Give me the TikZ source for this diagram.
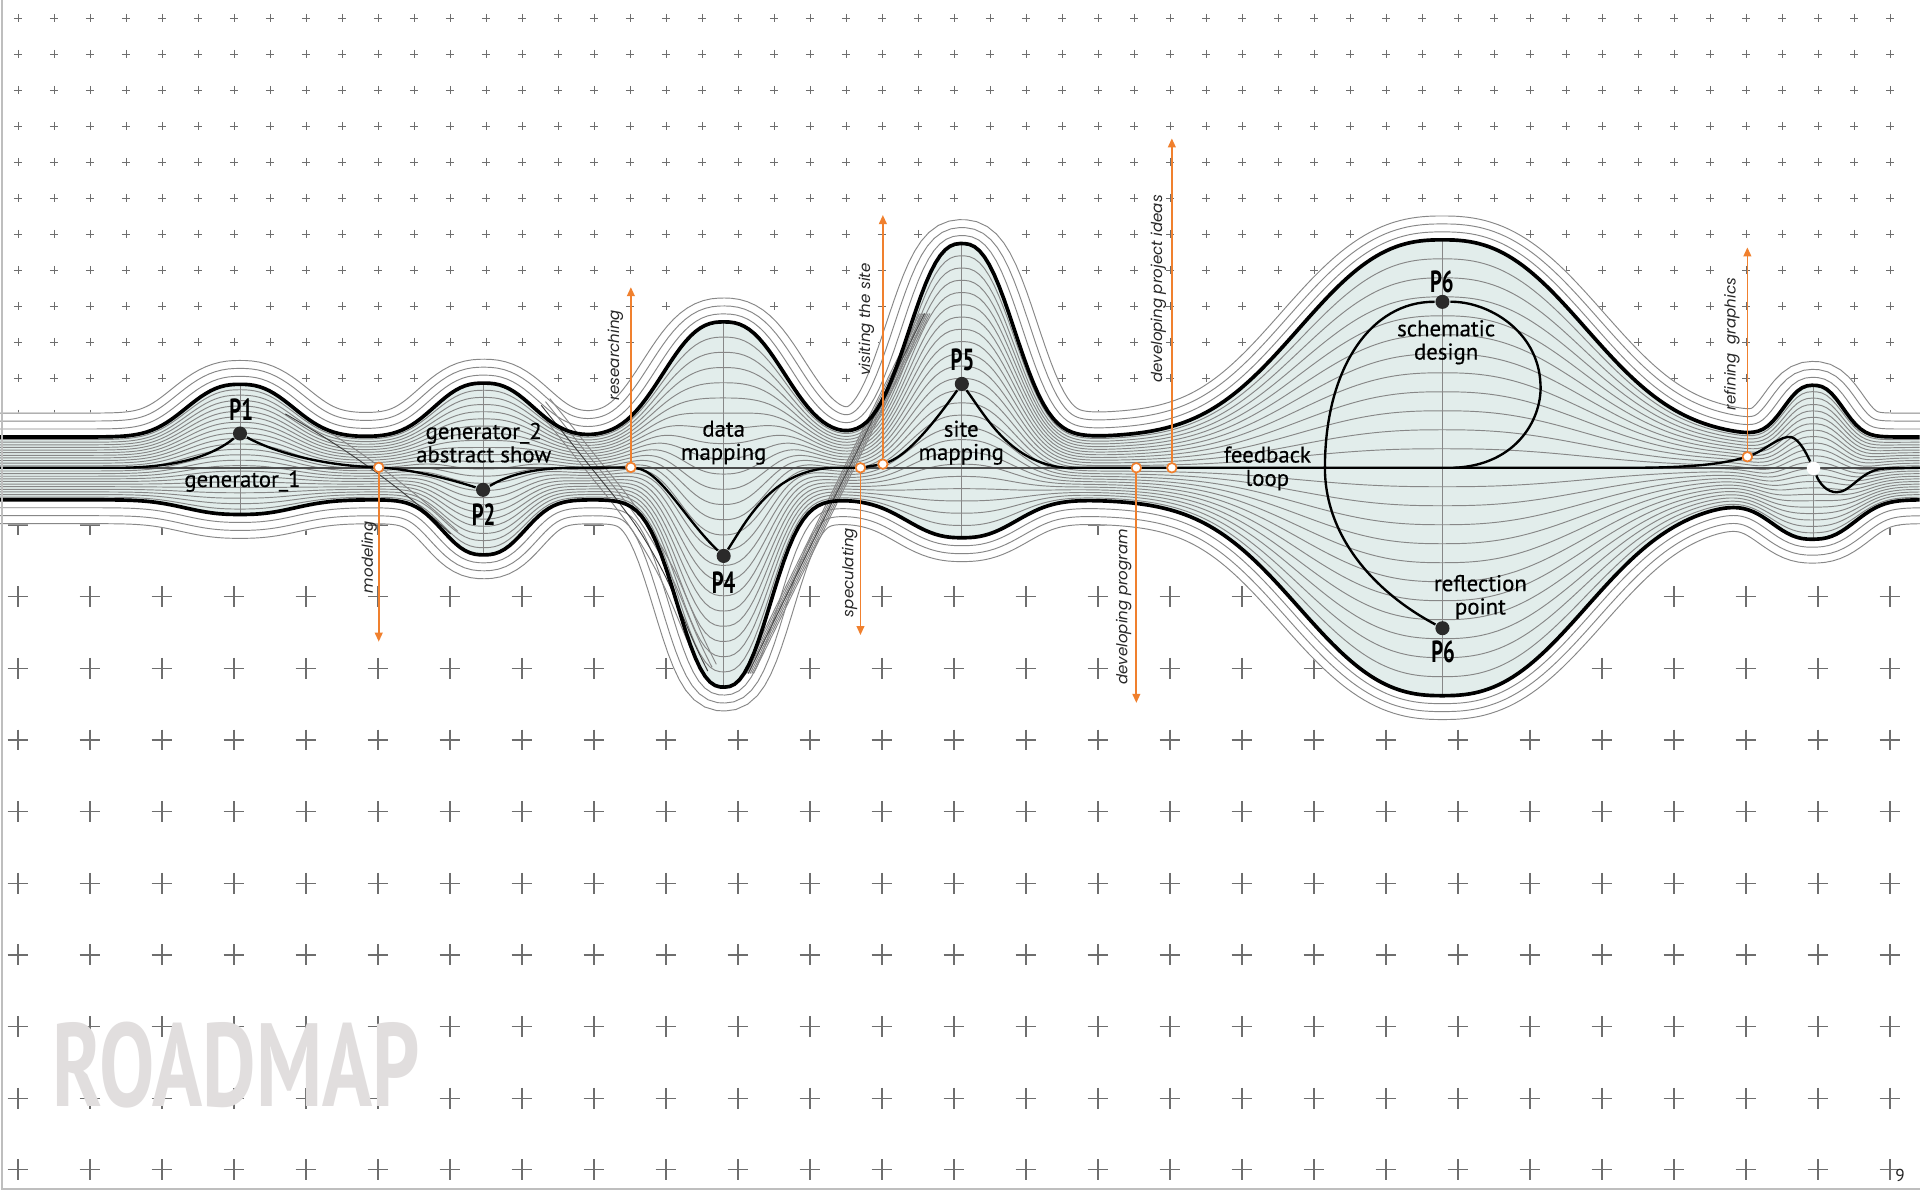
\documentclass[tikz,border=0pt]{standalone}
\usepackage{fontspec}
\usepackage{graphicx}
\setmainfont{PT Sans}
\newfontfamily\tagfont[FakeStretch=0.68]{PT Sans}
\newfontfamily\labelfont[FakeBold=0.4]{PT Sans}
\newfontfamily\sidefont{Poppins}
\usetikzlibrary{arrows.meta}

\definecolor{bandfill}{RGB}{226,237,235}
\definecolor{linegray}{RGB}{135,135,135}
\definecolor{crossgray}{RGB}{110,110,110}
\definecolor{stepsorange}{RGB}{240,128,46}
\definecolor{stopgray}{RGB}{42,42,42}
\definecolor{titlegray}{RGB}{225,222,222}
\definecolor{framegray}{RGB}{190,190,190}

% sampled band edges (value, normal parts)
\newcommand\Tv[1]{\csname rdTv#1\endcsname}
\newcommand\Tm[1]{\csname rdTm#1\endcsname}
\newcommand\Tn[1]{\csname rdTn#1\endcsname}
\newcommand\Bv[1]{\csname rdBv#1\endcsname}
\newcommand\Bm[1]{\csname rdBm#1\endcsname}
\newcommand\Bn[1]{\csname rdBn#1\endcsname}

\begin{document}
\begin{tikzpicture}[
  x=1cm,y=-1cm,
  contour/.style={draw=linegray,line width=0.22pt},
  envelope/.style={draw=black,line width=0.85pt,line join=round},
  axisline/.style={draw=black!70,line width=0.4pt},
  route/.style={draw=black,line width=0.55pt},
  smallcross/.style={draw=crossgray,line width=0.22pt},
  bigcross/.style={draw=crossgray,line width=0.3pt},
  frame/.style={draw=framegray,line width=0.6pt},
  stop/.style={circle,fill=stopgray,inner sep=0pt,minimum size=0.115cm},
  gapdot/.style={circle,fill=white,inner sep=0pt,minimum size=0.11cm},
  waypoint/.style={circle,draw=stepsorange,fill=white,line width=0.4pt,
                   inner sep=0pt,minimum size=0.078cm},
  branch/.style={draw=stepsorange,line width=0.4pt,-{Triangle[length=2.1pt,width=1.8pt]}},
  tag/.style={font=\tagfont\bfseries\fontsize{7.1}{7.1}\selectfont,inner sep=0pt},
  areatext/.style={font=\labelfont\fontsize{5.3}{5.4}\selectfont,align=center,inner sep=0pt,text=black},
  branchtext/.style={rotate=90,anchor=base,inner sep=0pt,
                     font=\sidefont\itshape\fontsize{3.5}{4}\selectfont,text=black!85},
  strand/.style={draw=linegray,line width=0.22pt},
  roadmaptitle/.style={text=titlegray,inner sep=0pt},
  pagenum/.style={font=\fontsize{4}{4}\selectfont,inner sep=0pt,text=black!85}
]
\fill[white] (0,0) rectangle (15.68,9.80);
\useasboundingbox (0,0) rectangle (15.68,9.80);

% grid of crosses
\draw[smallcross] \foreach \cx in {0,...,52}{\foreach \cy in {0,...,11}{
  ({0.147+0.294*\cx-0.033},{0.147+0.294*\cy}) -- ++(0.066,0)
  ({0.147+0.294*\cx},{0.147+0.294*\cy-0.033}) -- ++(0,0.066)}};
\draw[bigcross] \foreach \cx in {0,...,26}{\foreach \cy in {0,...,9}{
  ({0.147+0.588*\cx-0.085},{4.288+0.585*\cy}) -- ++(0.17,0)
  ({0.147+0.588*\cx},{4.288+0.585*\cy-0.085}) -- ++(0,0.17)}};

% band edges, sampled every 0.04
\foreach \i in {0,...,392}{
  \pgfmathsetmacro\rdx{\i*0.04}
  \xdef\rdT{3.57}\xdef\rdTs{0}\xdef\rdB{4.08}\xdef\rdBs{0}
  \foreach \bc/\tw/\ta/\bw/\ba in {1.96/0.54/0.43/0.55/0.12, 3.95/0.50/0.44/0.415/0.45,
      5.91/0.61/0.94/0.47/1.53, 7.855/0.53/1.58/0.55/0.31,
      11.78/1.44/1.61/1.44/1.60, 14.81/0.30/0.42/0.42/0.32}{
    \pgfmathsetmacro\rdu{max(min((\rdx-\bc)/\tw,2.3),-2.3)}
    \pgfmathsetmacro\rdf{exp(-(\rdu)*(\rdu)*sqrt(abs(\rdu)))}
    \pgfmathsetmacro\rdt{\rdT-(\ta)*(\rdf)}\xdef\rdT{\rdt}
    \pgfmathsetmacro\rdt{\rdTs+2.5*(\ta)*(\rdu)*sqrt(abs(\rdu))*(\rdf)/(\tw)}\xdef\rdTs{\rdt}
    \pgfmathsetmacro\rdu{max(min((\rdx-\bc)/\bw,2.3),-2.3)}
    \pgfmathsetmacro\rdf{exp(-(\rdu)*(\rdu)*sqrt(abs(\rdu)))}
    \pgfmathsetmacro\rdt{\rdB+(\ba)*(\rdf)}\xdef\rdB{\rdt}
    \pgfmathsetmacro\rdt{\rdBs-2.5*(\ba)*(\rdu)*sqrt(abs(\rdu))*(\rdf)/(\bw)}\xdef\rdBs{\rdt}
  }
  \pgfmathsetmacro\rdm{1/sqrt(1+(\rdTs)*(\rdTs))}
  \pgfmathsetmacro\rdn{(\rdTs)*(\rdm)}
  \expandafter\xdef\csname rdTv\i\endcsname{\rdT}
  \expandafter\xdef\csname rdTm\i\endcsname{\rdm}
  \expandafter\xdef\csname rdTn\i\endcsname{\rdn}
  \pgfmathsetmacro\rdm{1/sqrt(1+(\rdBs)*(\rdBs))}
  \pgfmathsetmacro\rdn{(\rdBs)*(\rdm)}
  \expandafter\xdef\csname rdBv\i\endcsname{\rdB}
  \expandafter\xdef\csname rdBm\i\endcsname{\rdm}
  \expandafter\xdef\csname rdBn\i\endcsname{\rdn}
}

% white margin and band
\fill[white] ({0.20*(\Tn0)},{\Tv0-0.20*(\Tm0)})
  \foreach \i in {1,...,392}{ -- ({\i*0.04+0.20*(\Tn\i)},{\Tv\i-0.20*(\Tm\i)})}
  \foreach \i in {392,...,0}{ -- ({\i*0.04-0.20*(\Bn\i)},{\Bv\i+0.20*(\Bm\i)})} -- cycle;
\fill[bandfill] (0,{\Tv0}) \foreach \i in {1,...,392}{ -- ({\i*0.04},{\Tv\i})}
  \foreach \i in {392,...,0}{ -- ({\i*0.04},{\Bv\i})} -- cycle;

\foreach \k in {1,...,23}{
  \draw[contour] (0,{\Tv0+\k/24*(\Bv0-\Tv0)})
    \foreach \i in {1,...,392}{ -- ({\i*0.04},{\Tv\i+\k/24*(\Bv\i-\Tv\i)})};
}
\foreach \gap in {0.065,0.13,0.195}{
  \draw[contour] ({\gap*(\Tn0)},{\Tv0-\gap*(\Tm0)})
    \foreach \i in {1,...,392}{ -- ({\i*0.04+\gap*(\Tn\i)},{\Tv\i-\gap*(\Tm\i)})};
  \draw[contour] ({-\gap*(\Bn0)},{\Bv0+\gap*(\Bm0)})
    \foreach \i in {1,...,392}{ -- ({\i*0.04-\gap*(\Bn\i)},{\Bv\i+\gap*(\Bm\i)})};
}
\foreach \bc/\idx in {1.96/49,3.95/99,5.91/148,7.855/196,11.78/294,14.81/370}{
  \draw[contour] (\bc,{\Tv\idx}) -- (\bc,{\Bv\idx});
}

% strands crossing the band
\draw[strand,draw=black!75] (2.33,3.38) .. controls (2.75,3.62) and (3.25,3.95) .. (3.68,4.36);
\draw[strand] (2.42,3.36) .. controls (2.85,3.62) and (3.30,3.93) .. (3.74,4.34);
\foreach \sx/\sy/\sc in {0/0/black!75,0.035/-0.03/linegray,0.07/-0.055/linegray,-0.035/0.03/linegray}{
  \draw[strand,draw=\sc,shift={(\sx,\sy)}] plot[smooth,tension=0.6] coordinates
    {(4.42,3.31) (4.82,3.81) (5.06,4.11) (5.25,4.38) (5.45,4.74) (5.66,5.23) (5.78,5.48)};
}
\foreach \s in {0,...,6}{
  \draw[strand] ({6.07+0.014*\s},5.50) -- ({7.51+0.014*\s},2.56);
}
\draw[strand,draw=black!70] (6.11,5.50) -- (7.55,2.56);

\draw[envelope] (0,{\Tv0}) \foreach \i in {1,...,392}{ -- ({\i*0.04},{\Tv\i})};
\draw[envelope] (0,{\Bv0}) \foreach \i in {1,...,392}{ -- ({\i*0.04},{\Bv\i})};

\coordinate (rdstart) at (0,3.82);
\coordinate (rdend) at (15.68,3.82);
\draw[axisline] (rdstart) -- (rdend);

% stops on the road
\node[stop] (p1) at (1.96,3.54) {};
\node[stop] (p2) at (3.945,4.00) {};
\node[stop] (p4) at (5.91,4.54) {};
\node[stop] (p5) at (7.855,3.135) {};
\node[stop] (p6a) at (11.78,2.465) {};
\node[stop] (p6b) at (11.78,5.13) {};
\node[gapdot] (p7) at (14.81,3.825) {};

\node[waypoint] (mdl) at (3.093,3.817) {};
\node[waypoint] (rsc) at (5.152,3.817) {};
\node[waypoint] (spc) at (7.027,3.82) {};
\node[waypoint] (vst) at (7.21,3.79) {};
\node[waypoint] (dvp) at (9.28,3.82) {};
\node[waypoint] (dvi) at (9.57,3.82) {};
\node[waypoint] (rfn) at (14.27,3.73) {};

\coordinate (loopjoin) at (11.87,3.82);
\draw[route] (rdstart) -- (0.95,3.82) .. controls (1.50,3.82) and (1.76,3.70) .. (p1)
  .. controls (2.25,3.70) and (2.65,3.80) .. (mdl)
  .. controls (3.40,3.84) and (3.70,3.92) .. (p2)
  .. controls (4.15,3.88) and (4.35,3.82) .. (4.70,3.82) -- (rsc)
  .. controls (5.40,3.85) and (5.60,4.25) .. (p4)
  .. controls (6.10,4.25) and (6.30,3.84) .. (6.80,3.82) -- (spc) -- (vst)
  .. controls (7.45,3.70) and (7.70,3.35) .. (p5)
  .. controls (8.05,3.40) and (8.25,3.78) .. (8.70,3.82) -- (dvp) -- (dvi) -- (loopjoin)
  .. controls (12.40,3.80) and (12.60,3.40) .. (12.58,3.13)
  .. controls (12.56,2.70) and (12.15,2.46) .. (p6a)
  .. controls (11.20,2.46) and (10.82,3.00) .. (10.82,3.82)
  .. controls (10.82,4.40) and (11.25,4.85) .. (p6b);
\draw[route] (loopjoin) -- (13.30,3.82) .. controls (13.80,3.82) and (14.05,3.79) .. (rfn)
  .. controls (14.42,3.67) and (14.55,3.55) .. (14.63,3.57)
  .. controls (14.70,3.59) and (14.76,3.72) .. (p7)
  .. controls (14.86,3.95) and (14.92,4.02) .. (15.00,4.02)
  .. controls (15.12,4.02) and (15.20,3.83) .. (15.40,3.825) -- (rdend);

% branches
\coordinate (mdltip) at (3.093,5.24);
\coordinate (rsctip) at (5.152,2.345);
\coordinate (spctip) at (7.027,5.186);
\coordinate (vsttip) at (7.21,1.756);
\coordinate (dvptip) at (9.28,5.74);
\coordinate (dvitip) at (9.57,1.13);
\coordinate (rfntip) at (14.27,2.02);
\draw[branch] (mdl) -- (mdltip);
\draw[branch] (rsc) -- (rsctip);
\draw[branch] (spc) -- (spctip);
\draw[branch] (vst) -- (vsttip);
\draw[branch] (dvp) -- (dvptip);
\draw[branch] (dvi) -- (dvitip);
\draw[branch] (rfn) -- (rfntip);

\node[branchtext] (mdltext) at (3.045,4.55) {modeling};
\node[branchtext] (rsctext) at (5.057,2.90) {researching};
\node[branchtext] (spctext) at (6.97,4.675) {speculating};
\node[branchtext] (vsttext) at (7.105,2.61) {visiting the site};
\node[branchtext] (dvptext) at (9.206,4.955) {developing program};
\node[branchtext] (dvitext) at (9.49,2.36) {developing project ideas};
\node[branchtext] (rfntext) at (14.174,2.81) {refining\ \ graphics};

\node[tag] (p1tag) at (1.97,3.345) {P1};
\node[tag] (p2tag) at (3.95,4.206) {P2};
\node[tag] (p4tag) at (5.91,4.76) {P4};
\node[tag] (p5tag) at (7.86,2.94) {P5};
\node[tag] (p6atag) at (11.775,2.30) {P6};
\node[tag] (p6btag) at (11.785,5.32) {P6};

\node[areatext] (gen1) at (1.98,3.93) {generator\_1};
\node[areatext] (gen2) at (3.95,3.615) {generator\_2\\abstract show};
\node[areatext] (datamap) at (5.91,3.615) {data\\mapping};
\node[areatext] (sitemap) at (7.85,3.615) {site\\mapping};
\node[areatext] (fbloop) at (10.35,3.825) {feedback\\loop};
\node[areatext] (schem) at (11.81,2.795) {schematic\\design};
\node[areatext] (reflect) at (12.09,4.875) {reflection\\point};

\node[roadmaptitle] (title) at (1.93,8.70) {\resizebox{3.00cm}{0.69cm}{\bfseries ROADMAP}};
\node[pagenum] (pagenum) at (15.517,9.60) {9};
\draw[frame] (0.017,0) -- (0.017,9.71) -- (15.68,9.71);
\end{tikzpicture}
\end{document}
